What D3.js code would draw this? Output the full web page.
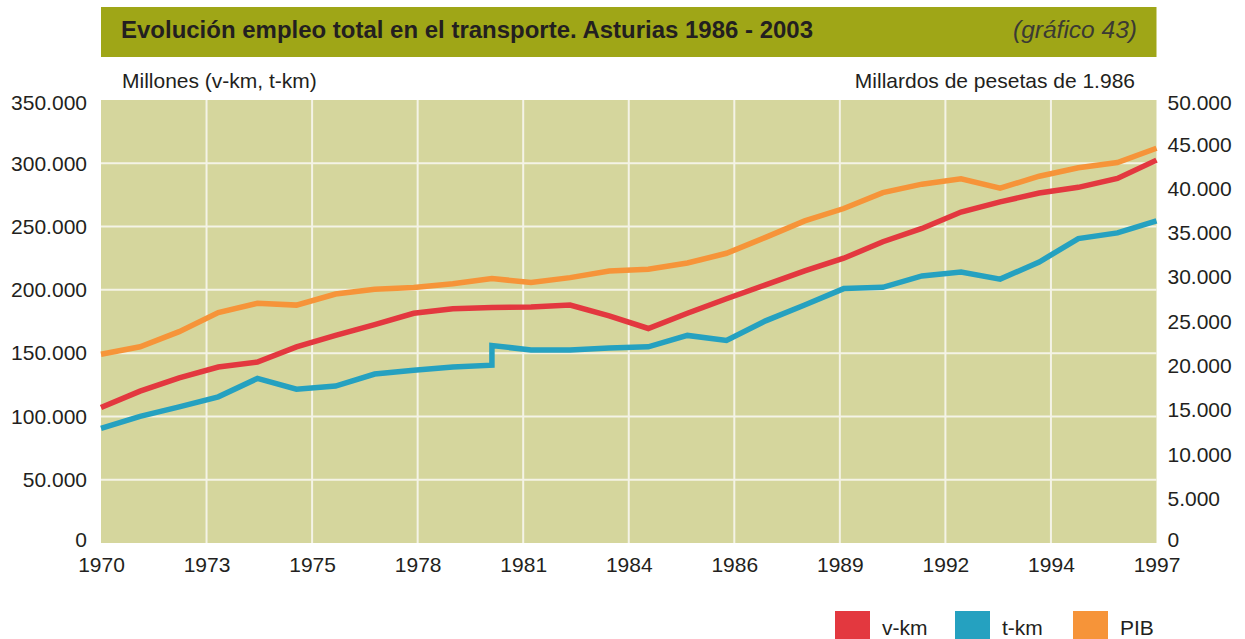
<!DOCTYPE html>
<html>
<head>
<meta charset="utf-8">
<script src="https://cdn.jsdelivr.net/npm/d3@7"></script>
<style>
  html, body { margin: 0; padding: 0; background: #ffffff; }
  svg { display: block; }
  text { font-family: "Liberation Sans", Arial, Helvetica, sans-serif; fill: #231f20; }
</style>
</head>
<body>
<svg id="chart" width="1245" height="639"></svg>
<script>
// Years of the series
const years = [1970, 1971, 1972, 1973, 1974, 1975, 1976, 1977, 1978, 1979, 1980,
  1981, 1982, 1983, 1984, 1985, 1986, 1987, 1988, 1989, 1990,
  1991, 1992, 1993, 1994, 1995, 1996, 1997];

// v-km (millones), left axis
const vkm = [107000, 120000, 130500, 139000, 143000, 155000, 164000, 172500, 181500, 185000, 186000,
  186500, 188000, 179500, 169500, 181500, 193000, 204000, 215000, 225000, 238000,
  248500, 261500, 269500, 276500, 281000, 288000, 302500];

// t-km (millones), left axis; 1980 appears twice because the series steps up that year
const tkmYears = [1970, 1971, 1972, 1973, 1974, 1975, 1976, 1977, 1978, 1979, 1980, 1980,
  1981, 1982, 1983, 1984, 1985, 1986, 1987, 1988, 1989, 1990,
  1991, 1992, 1993, 1994, 1995, 1996, 1997];
const tkm = [90500, 100000, 107500, 115500, 130000, 121500, 124000, 133500, 136500, 139000, 140500, 156000,
  152500, 152500, 154000, 155000, 164000, 160000, 175500, 188000, 201000, 202000,
  211000, 214000, 208500, 222000, 240500, 245000, 254500];

// PIB (millardos de pesetas de 1.986), right axis
const pib = [21300, 22150, 23850, 26000, 27050, 26850, 28100, 28650, 28850, 29250, 29850,
  29400, 29950, 30700, 30900, 31600, 32700, 34500, 36350, 37750, 39550,
  40500, 41100, 40050, 41400, 42350, 42950, 44550];

// Axis ticks and labels
const leftTicks = [0, 50000, 100000, 150000, 200000, 250000, 300000, 350000];
const rightTicks = [0, 5000, 10000, 15000, 20000, 25000, 30000, 35000, 40000, 45000, 50000];
const xTickLabels = ["1970", "1973", "1975", "1978", "1981", "1984", "1986", "1989", "1992", "1994", "1997"];

const seriesNames = ["v-km", "t-km", "PIB"];
const seriesColors = ["#e3383f", "#25a1c0", "#f69439"];

const titleText = "Evolución empleo total en el transporte. Asturias 1986 - 2003";
const titleRef = "(gráfico 43)";
const leftUnit = "Millones (v-km, t-km)";
const rightUnit = "Millardos de pesetas de 1.986";

// Layout
const plot = { left: 101, right: 1156.5, top: 100, bottom: 543 };

const svg = d3.select("#chart");

const x = d3.scaleLinear().domain([years[0], years[years.length - 1]]).range([plot.left, plot.right]);
const yL = d3.scaleLinear().domain([0, 350000]).range([plot.bottom, plot.top]);
const yR = d3.scaleLinear().domain([0, 50000]).range([plot.bottom, plot.top]);

const es = d3.formatLocale({ decimal: ",", thousands: ".", grouping: [3], currency: ["", "€"] });
const fmt = es.format(",");

// Title band
svg.append("rect")
  .attr("x", plot.left).attr("y", 7)
  .attr("width", plot.right - plot.left).attr("height", 50)
  .attr("fill", "#9fa617");
svg.append("text")
  .attr("x", 121).attr("y", 37.5)
  .attr("textLength", 692).attr("lengthAdjust", "spacingAndGlyphs")
  .style("font-size", "23px").style("font-weight", "bold")
  .text(titleText);
svg.append("text")
  .attr("x", 1137).attr("y", 37.5)
  .attr("text-anchor", "end")
  .attr("textLength", 124).attr("lengthAdjust", "spacingAndGlyphs")
  .style("font-size", "23px").style("font-style", "italic")
  .style("fill", "#3b3a33")
  .text(titleRef);

// Unit captions
svg.append("text").attr("x", 122).attr("y", 87.5).style("font-size", "21px").text(leftUnit);
svg.append("text").attr("x", 1135).attr("y", 87.5).attr("text-anchor", "end").style("font-size", "21px").text(rightUnit);

// Plot background
svg.append("rect")
  .attr("x", plot.left).attr("y", plot.top)
  .attr("width", plot.right - plot.left).attr("height", plot.bottom - plot.top)
  .attr("fill", "#d5d69d");

// Grid
const xTickVals = xTickLabels.map((d, i) => years[0] + i * (years[years.length - 1] - years[0]) / (xTickLabels.length - 1));
const grid = svg.append("g").attr("stroke", "#f4f3e6").attr("stroke-width", 2);
grid.selectAll("line.h").data(leftTicks.filter(d => d > 0 && d < 350000)).join("line")
  .attr("x1", plot.left).attr("x2", plot.right)
  .attr("y1", d => yL(d)).attr("y2", d => yL(d));
grid.selectAll("line.v").data(xTickVals.slice(1, -1)).join("line")
  .attr("y1", plot.top).attr("y2", plot.bottom)
  .attr("x1", d => x(d)).attr("x2", d => x(d));

// Left axis
const axL = svg.append("g").attr("transform", `translate(${plot.left},0)`)
  .call(d3.axisLeft(yL).tickValues(leftTicks).tickFormat(fmt).tickSize(0).tickPadding(14));
axL.select(".domain").remove();
axL.selectAll("text").style("font-size", "21px").style("font-family", null).attr("fill", "#231f20");

// Right axis
const axR = svg.append("g").attr("transform", `translate(${plot.right},0)`)
  .call(d3.axisRight(yR).tickValues(rightTicks).tickFormat(fmt).tickSize(0).tickPadding(11));
axR.select(".domain").remove();
axR.selectAll("text").style("font-size", "21px").style("font-family", null).attr("fill", "#231f20");

// Tick labels sit slightly inside the end ticks
axL.selectAll(".tick text").attr("dy", d => (0.32 + (d === 350000 ? 0.14 : d === 0 ? -0.14 : 0)) + "em");
axR.selectAll(".tick text").attr("dy", d => (0.32 + (d === 50000 ? 0.14 : d === 0 ? -0.14 : 0)) + "em");

// Bottom axis
const axB = svg.append("g").attr("transform", `translate(0,${plot.bottom})`)
  .call(d3.axisBottom(x).tickValues(xTickVals).tickFormat((d, i) => xTickLabels[i]).tickSize(0).tickPadding(14));
axB.select(".domain").remove();
axB.selectAll("text").style("font-size", "21px").style("font-family", null).attr("fill", "#231f20");

// Lines
const lineL = d3.line().x(d => x(d[0])).y(d => yL(d[1]));
const lineR = d3.line().x(d => x(d[0])).y(d => yR(d[1]));

const lines = svg.append("g").attr("fill", "none").attr("stroke-width", 5.5)
  .attr("stroke-linejoin", "miter").attr("stroke-linecap", "butt");
lines.append("path").attr("d", lineR(years.map((y, i) => [y, pib[i]]))).attr("stroke", seriesColors[2]);
lines.append("path").attr("d", lineL(years.map((y, i) => [y, vkm[i]]))).attr("stroke", seriesColors[0]);
lines.append("path").attr("d", lineL(tkmYears.map((y, i) => [y, tkm[i]]))).attr("stroke", seriesColors[1]);

// Legend
const legendX = [835, 955, 1073];
const leg = svg.append("g");
seriesNames.forEach((name, i) => {
  leg.append("rect").attr("x", legendX[i]).attr("y", 611).attr("width", 35).attr("height", 28).attr("fill", seriesColors[i]);
  leg.append("text").attr("x", legendX[i] + 47).attr("y", 635).style("font-size", "21px").text(name);
});
</script>
</body>
</html>
